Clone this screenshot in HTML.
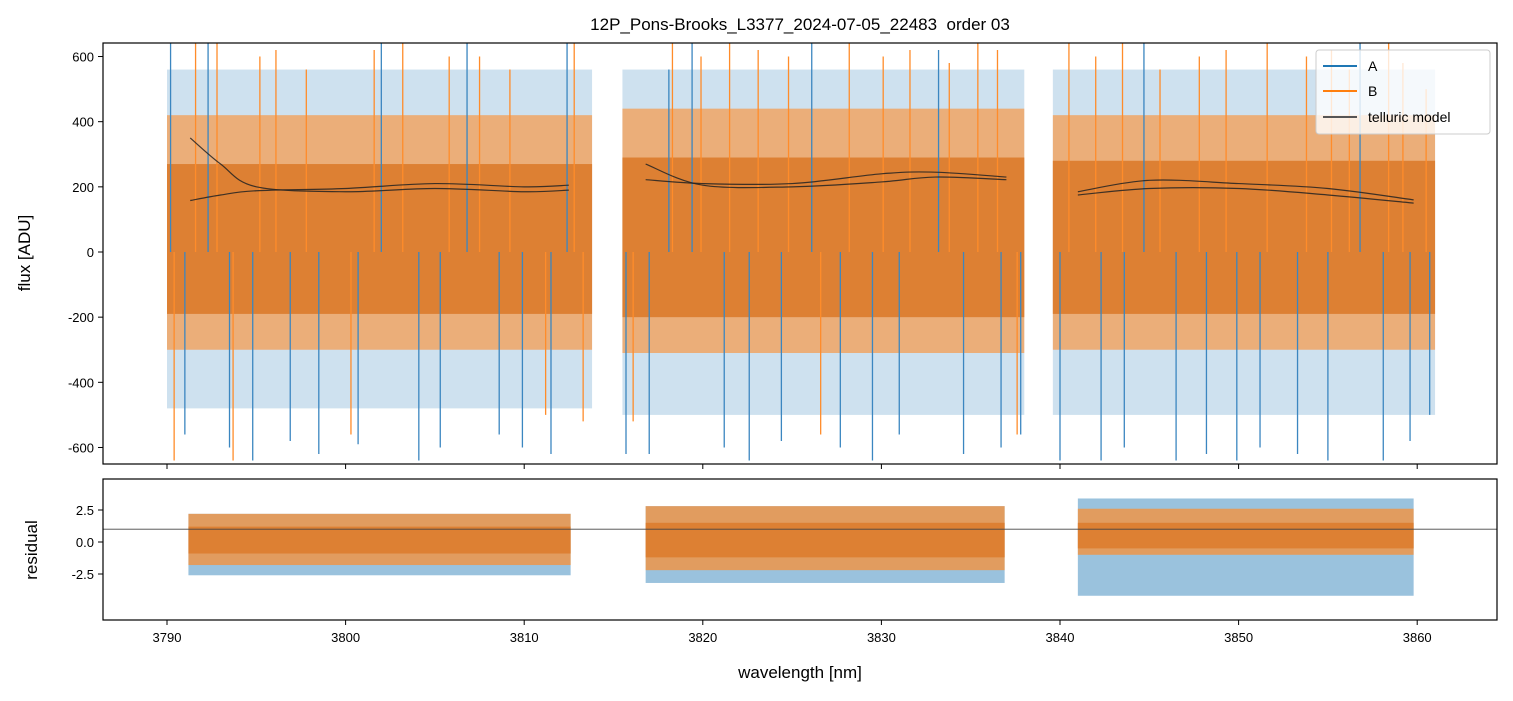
<!DOCTYPE html>
<html><head><meta charset="utf-8">
<style>
body{margin:0;background:#fff;}
svg text{font-family:"Liberation Sans","DejaVu Sans",sans-serif;fill:#000;white-space:pre;}
</style></head>
<body>
<svg id="chart" width="1513" height="696" xmlns="http://www.w3.org/2000/svg">
<rect width="1513" height="696" fill="#fff"/>
<text x="800" y="30" font-size="17" text-anchor="middle">12P_Pons-Brooks_L3377_2024-07-05_22483  order 03</text>
<defs>
<clipPath id="ct"><rect x="103" y="43" width="1394" height="421"/></clipPath>
<clipPath id="cb"><rect x="103" y="479" width="1394" height="141"/></clipPath>
</defs>
<g id="topPanel" clip-path="url(#ct)"></g>
<g id="botPanel" clip-path="url(#cb)"></g>
<g id="axes"></g>
<g>
<rect x="1316" y="50" width="174" height="84" rx="3" fill="#fff" fill-opacity="0.8" stroke="#ccc"/>
<line x1="1323" y1="66" x2="1357" y2="66" stroke="#1f77b4" stroke-width="2"/>
<text x="1368" y="71" font-size="14">A</text>
<line x1="1323" y1="91" x2="1357" y2="91" stroke="#ff7f0e" stroke-width="2"/>
<text x="1368" y="96" font-size="14">B</text>
<line x1="1323" y1="117" x2="1357" y2="117" stroke="#555" stroke-width="2"/>
<text x="1368" y="122" font-size="14">telluric model</text>
</g>
<text transform="translate(30,253) rotate(-90)" font-size="17" text-anchor="middle">flux [ADU]</text>
<text transform="translate(37,550) rotate(-90)" font-size="17" text-anchor="middle">residual</text>
<text x="800" y="678" font-size="17" text-anchor="middle">wavelength [nm]</text>
</svg>
<script>
// segments (wavelength ranges)
const segStart=[3790.0,3815.5,3839.6];
const segEnd=[3813.8,3838.0,3861.0];
// flux band envelopes (ADU)
const fluxAUpper=[560,560,560];
const fluxALower=[-480,-500,-500];
const fluxBUpper=[420,440,420];
const fluxBLower=[-300,-310,-300];
const fluxCoreUpper=[270,290,280];
const fluxCoreLower=[-190,-200,-190];
// flux spikes (wavelength, value) for A and B
const spikeAx=[3790.2,3791.0,3792.3,3793.5,3794.8,3796.9,3798.5,3800.7,3802,3804.1,3805.3,3806.8,3808.6,3809.9,3811.5,3812.4,3815.7,3817,3818.1,3819.4,3821.2,3822.6,3824.4,3826.1,3827.7,3829.5,3831.0,3833.2,3834.6,3836.7,3837.8,3840.0,3842.3,3843.6,3844.7,3846.5,3848.2,3849.9,3851.2,3853.3,3855.0,3856.8,3858.1,3859.6,3860.7];
const spikeAv=[640,-560,640,-600,-640,-580,-620,-590,640,-640,-600,640,-560,-600,-620,640,-620,-620,560,640,-600,-640,-580,640,-600,-640,-560,620,-620,-600,-560,-640,-640,-600,640,-640,-620,-640,-600,-620,-640,640,-640,-580,-500];
const spikeBx=[3790.4,3791.6,3792.8,3793.7,3795.2,3796.1,3797.8,3800.3,3801.6,3803.2,3805.8,3807.5,3809.2,3811.2,3812.8,3813.3,3816.1,3818.3,3819.9,3821.5,3823.1,3824.8,3826.6,3828.2,3830.1,3831.6,3833.8,3835.4,3836.5,3837.6,3840.5,3842.0,3843.5,3845.6,3847.8,3849.3,3851.6,3853.8,3855.2,3856.2,3858.4,3859.2,3860.5];
const spikeBv=[-640,640,640,-640,600,620,560,-560,620,640,600,600,560,-500,640,-520,-520,640,600,640,620,600,-560,640,600,620,580,640,620,-560,640,600,640,560,600,620,640,600,620,560,640,580,500];
// telluric model curves
const tellX=[[3791.3,3793,3795,3800,3805,3810,3812.5],[3816.8,3820,3825,3830,3833,3837],[3841,3845,3850,3855,3859.8]];
const tell1=[[350,270,200,185,195,185,190],[270,205,200,215,230,222],[185,220,210,195,160]];
const tell2=[[158,175,188,195,210,200,205],[222,210,210,240,245,230],[175,195,195,175,150]];
// residual segments and envelopes
const resStart=[3791.2,3816.8,3841.0];
const resEnd=[3812.6,3836.9,3859.8];
const resAUpper=[2.2,2.8,3.4];
const resALower=[-2.6,-3.2,-4.2];
const resBUpper=[2.2,2.8,2.6];
const resBLower=[-1.8,-2.2,-1.0];
const resCoreUpper=[1.2,1.5,1.5];
const resCoreLower=[-0.9,-1.2,-0.5];
const resLine=1.0;
const xTicks=[3790,3800,3810,3820,3830,3840,3850,3860];
const yTicksTop=[-600,-400,-200,0,200,400,600];
const yTicksBot=[-2.5,0.0,2.5];

const X=w=>167+(w-3790)*17.86;
const YT=v=>252-v*0.3258;
const YB=v=>542-v*12.8;
const NS="http://www.w3.org/2000/svg";
function mk(tag,attrs,parent){const e=document.createElementNS(NS,tag);for(const k in attrs)e.setAttribute(k,attrs[k]);parent.appendChild(e);return e;}
const topG=document.getElementById('topPanel'),botG=document.getElementById('botPanel'),axG=document.getElementById('axes');
function band(p,s,e,u,l,Y,fill,op,name){
  const r=mk('rect',{x:X(s),y:Y(u),width:X(e)-X(s),height:Y(l)-Y(u),fill:fill,'fill-opacity':op},p);
  
  
}
for(let i=0;i<3;i++){
  band(topG,segStart[i],segEnd[i],fluxAUpper[i],fluxALower[i],YT,'#1f77b4',0.22,'flux-a-band');
  band(topG,segStart[i],segEnd[i],fluxBUpper[i],fluxBLower[i],YT,'#ff8c2a',0.6,'flux-b-band');
  band(topG,segStart[i],segEnd[i],fluxCoreUpper[i],fluxCoreLower[i],YT,'#dd8033',1,'flux-core-band');
  band(botG,resStart[i],resEnd[i],resAUpper[i],resALower[i],YB,'#1f77b4',0.45,'residual-a-band');
  band(botG,resStart[i],resEnd[i],resBUpper[i],resBLower[i],YB,'#ff8c2a',0.7,'residual-b-band');
  band(botG,resStart[i],resEnd[i],resCoreUpper[i],resCoreLower[i],YB,'#dd8033',1,'residual-core-band');
}
spikeAx.forEach((w,i)=>{const l=mk('line',{x1:X(w),x2:X(w),y1:YT(0),y2:YT(spikeAv[i]),stroke:'#3b86c0','stroke-width':1.3},topG);

});
spikeBx.forEach((w,i)=>{const l=mk('line',{x1:X(w),x2:X(w),y1:YT(0),y2:YT(spikeBv[i]),stroke:'#ff8c2a','stroke-width':1.3},topG);

});
function smooth(pts){let d='M'+pts[0][0]+','+pts[0][1];
  for(let i=0;i<pts.length-1;i++){const p0=pts[Math.max(0,i-1)],p1=pts[i],p2=pts[i+1],p3=pts[Math.min(pts.length-1,i+2)];
    d+=' C'+(p1[0]+(p2[0]-p0[0])/6)+','+(p1[1]+(p2[1]-p0[1])/6)+' '+(p2[0]-(p3[0]-p1[0])/6)+','+(p2[1]-(p3[1]-p1[1])/6)+' '+p2[0]+','+p2[1];}
  return d;}
for(let i=0;i<3;i++){
  [tell1,tell2].forEach(c=>{const pts=tellX[i].map((w,j)=>[X(w),YT(c[i][j])]);
  const pl=mk('path',{d:smooth(pts),fill:'none',stroke:'#222','stroke-opacity':0.85,'stroke-width':1.2},topG);
  
  });
}
const rl=mk('line',{x1:103,x2:1497,y1:YB(resLine),y2:YB(resLine),stroke:'#444','stroke-width':0.8},botG);


[[43,421],[479,141]].forEach(([y,h])=>{const f=mk('rect',{x:103,y:y,width:1394,height:h,fill:'none',stroke:'#000','stroke-width':1.2},axG);

});
xTicks.forEach(t=>{const x=X(t);
  mk('line',{x1:x,x2:x,y1:464,y2:469,stroke:'#000'},axG);
  mk('line',{x1:x,x2:x,y1:620,y2:625,stroke:'#000'},axG);
  const tx=mk('text',{x:x,y:642,'font-size':13,'text-anchor':'middle'},axG);tx.textContent=t;
  
  });
yTicksTop.forEach(t=>{const y=YT(t);mk('line',{x1:98,x2:103,y1:y,y2:y,stroke:'#000'},axG);
  const tx=mk('text',{x:94,y:y+5,'font-size':13,'text-anchor':'end'},axG);tx.textContent=t;
  
  });
yTicksBot.forEach(t=>{const y=YB(t);mk('line',{x1:98,x2:103,y1:y,y2:y,stroke:'#000'},axG);
  const tx=mk('text',{x:94,y:y+5,'font-size':13,'text-anchor':'end'},axG);tx.textContent=t.toFixed(1);
  
  });
</script>
</body></html>
